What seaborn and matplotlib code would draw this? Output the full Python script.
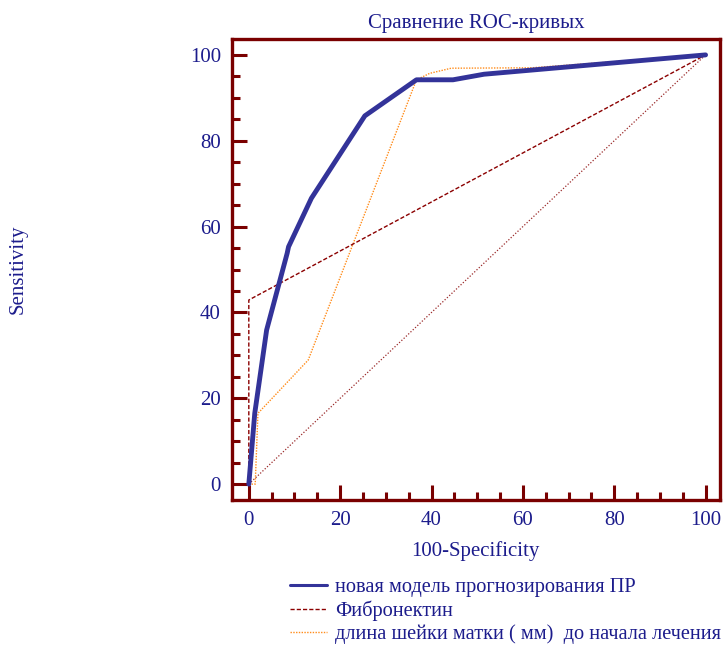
import numpy as np
import pandas as pd
import matplotlib
matplotlib.use('Agg')
import matplotlib.pyplot as plt
import seaborn as sns
from matplotlib.ticker import MultipleLocator

# ROC points (100-Specificity, Sensitivity)
model_x = [0, 1.3, 3.9, 8.4, 8.7, 13.7, 25.4, 36.7, 44.7, 51.5, 100]
model_y = [0, 16.5, 35.9, 53.8, 55.3, 66.6, 85.8, 94.2, 94.2, 95.5, 100]

fibro_x = [0, 0, 100]
fibro_y = [0, 42.9, 100]

cervix_x = [0, 1.4, 2.0, 13.0, 36.7, 39.6, 44.3, 62, 100]
cervix_y = [0, 0, 16.5, 28.9, 94.2, 95.7, 96.9, 97, 100]

diag_x = [0, 100]
diag_y = [0, 100]

labels = ['новая модель прогнозирования ПР', 'Фибронектин',
          'длина шейки матки ( мм)  до начала лечения']

sns.set_theme(style='white')
plt.rcParams['font.family'] = ['Liberation Serif', 'DejaVu Serif']

navy = '#1c1c8c'
maroon = '#7a0000'
fs = 15

fig = plt.figure(figsize=(7.27, 6.45), dpi=100)
ax = fig.add_axes([0.319, 0.2248, 0.671, 0.7147])

sns.lineplot(x=diag_x, y=diag_y, ax=ax, sort=False, estimator=None,
             color='#9b2a2a', lw=0.9, linestyle=(0, (1, 1.5)))
sns.lineplot(x=cervix_x, y=cervix_y, ax=ax, sort=False, estimator=None,
             color='#ff8c1a', lw=1.0, linestyle=(0, (1, 1)), label=labels[2])
sns.lineplot(x=fibro_x, y=fibro_y, ax=ax, sort=False, estimator=None,
             color='#8b0000', lw=1.0, linestyle=(0, (3, 1.5)), label=labels[1])
sns.lineplot(x=model_x, y=model_y, ax=ax, sort=False, estimator=None,
             color='#333399', lw=3.5, label=labels[0])

ax.set_xlim(-3.7, 103.1)
ax.set_ylim(-3.7, 103.7)
ax.xaxis.set_major_locator(MultipleLocator(20))
ax.xaxis.set_minor_locator(MultipleLocator(5))
ax.yaxis.set_major_locator(MultipleLocator(20))
ax.yaxis.set_minor_locator(MultipleLocator(5))
ax.tick_params(which='both', direction='in', color=maroon, width=2.2,
               labelcolor=navy, labelsize=fs, pad=8,
               bottom=True, left=True, top=False, right=False)
ax.tick_params(which='major', length=11)
ax.tick_params(which='minor', length=5.5)
for s in ax.spines.values():
    s.set_color(maroon)
    s.set_linewidth(2.4)

ax.set_title('Сравнение ROC-кривых', color=navy, fontsize=fs, pad=8)
ax.set_xlabel('100-Specificity', color=navy, fontsize=fs, labelpad=8)
ax.set_ylabel('Sensitivity', color=navy, fontsize=fs)
ax.yaxis.set_label_coords(-0.419, 0.5)

h, l = ax.get_legend_handles_labels()
order = [l.index(x) for x in labels]
leg = ax.legend([h[i] for i in order], [l[i] for i in order],
                loc='upper left', bbox_to_anchor=(290 / 727, 1 - 578 / 645),
                bbox_transform=fig.transFigure, frameon=False, fontsize=14.7,
                labelcolor=navy, handlelength=1.8, handletextpad=0.4,
                labelspacing=0.16, borderaxespad=0, borderpad=0)
leg.get_lines()[0].set_linewidth(2.2)

fig.savefig('out.png', dpi=100)
